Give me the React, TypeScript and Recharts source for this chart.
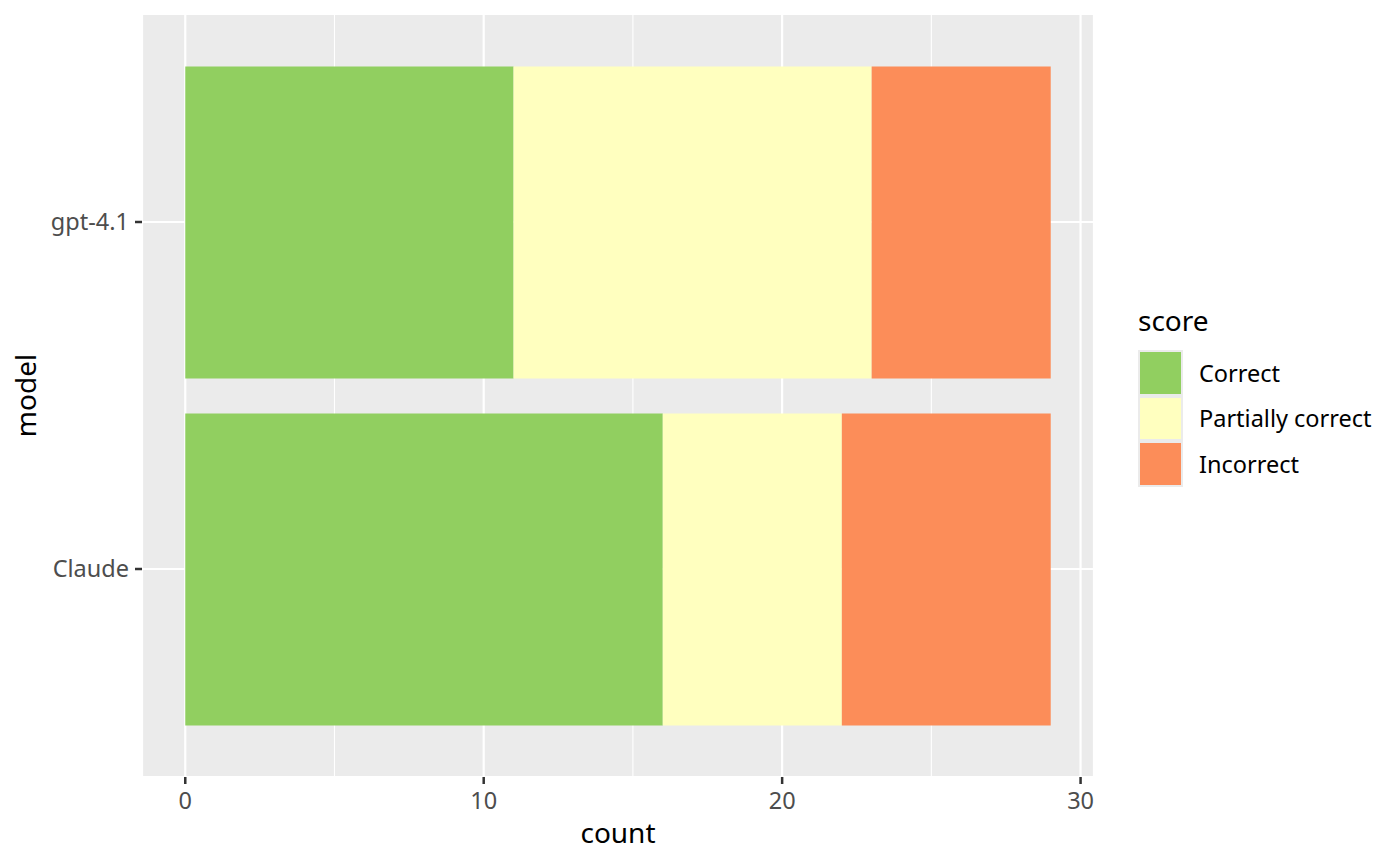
import React from 'react'
import { BarChart, Bar, XAxis, YAxis, CartesianGrid, Legend, Label } from 'recharts'

const models = ['gpt-4.1', 'Claude']
const scoreLevels = ['Correct', 'Partially correct', 'Incorrect']
const correct = [11, 16]
const partiallyCorrect = [12, 6]
const incorrect = [6, 7]
const countTicks = [0, 10, 20, 30]
const minorTicks = [5, 15, 25]

const colors: Record<string, string> = {
  Correct: '#91CF60',
  'Partially correct': '#FFFFBF',
  Incorrect: '#FC8D59',
}

const data = models.map((model, i) => ({
  model,
  Correct: correct[i],
  'Partially correct': partiallyCorrect[i],
  Incorrect: incorrect[i],
}))

const FONT = '"Noto Sans", "Open Sans", sans-serif'

// legend keeps the factor order of the score levels (ggplot style)
const ScoreLegend = () => (
  <div style={{ width: 306, boxSizing: 'border-box', paddingLeft: 44, fontFamily: FONT }}>
    <div style={{ fontSize: 28, lineHeight: '28px', height: 28, marginBottom: 16, color: '#000' }}>score</div>
    {scoreLevels.map((level) => (
      <div key={level} style={{ display: 'flex', alignItems: 'center', height: 45.5 }}>
        <div
          style={{
            width: 45,
            height: 45.5,
            boxSizing: 'border-box',
            border: '2px solid #EBEBEB',
            background: colors[level],
          }}
        />
        <span style={{ marginLeft: 16, fontSize: 23.5, color: '#000', whiteSpace: 'nowrap' }}>{level}</span>
      </div>
    ))}
  </div>
)

const ModelTitle = ({ viewBox }: any) => {
  const cy = viewBox.y + viewBox.height / 2
  return (
    <text
      transform={`translate(36, ${cy}) rotate(-90)`}
      textAnchor="middle"
      fontSize={28}
      fill="#000"
      fontFamily={FONT}
    >
      model
    </text>
  )
}

export default function App() {
  return (
    <div style={{ position: 'absolute', left: 0, top: 0, width: 1400, height: 865, background: '#fff' }}>
      <BarChart
        width={1400}
        height={865}
        data={data}
        layout="vertical"
        margin={{ top: 14, right: 0, bottom: 0, left: 0 }}
        style={{ fontFamily: FONT }}
      >
        <CartesianGrid fill="#EBEBEB" stroke="#FFFFFF" strokeWidth={2.2} />
        <CartesianGrid horizontal={false} verticalValues={minorTicks} stroke="#FFFFFF" strokeWidth={1.1} />
        <XAxis
          type="number"
          domain={[-1.45, 30.45]}
          allowDataOverflow
          ticks={countTicks}
          axisLine={false}
          tickSize={7}
          tickMargin={8}
          tickLine={{ stroke: '#333333', strokeWidth: 2.5 }}
          tick={{ fontSize: 23.5, fill: '#4D4D4D' }}
          height={88}
        >
          <Label value="count" position="insideBottom" offset={22} fontSize={28} fill="#000" />
        </XAxis>
        <YAxis
          type="category"
          dataKey="model"
          width={142}
          padding={{ top: 34.5, bottom: 34.5 }}
          axisLine={false}
          tickSize={7}
          tickMargin={6}
          tickLine={{ stroke: '#333333', strokeWidth: 2.5 }}
          tick={{ fontSize: 23.5, fill: '#4D4D4D' }}
        >
          <Label content={<ModelTitle />} />
        </YAxis>
        <Legend
          layout="vertical"
          align="right"
          verticalAlign="top"
          content={<ScoreLegend />}
          wrapperStyle={{ top: 306, right: 0, width: 306 }}
        />
        {scoreLevels.map((level) => (
          <Bar
            key={level}
            dataKey={level}
            name={level}
            stackId="score"
            fill={colors[level]}
            barSize={312}
            isAnimationActive={false}
          />
        ))}
      </BarChart>
    </div>
  )
}
